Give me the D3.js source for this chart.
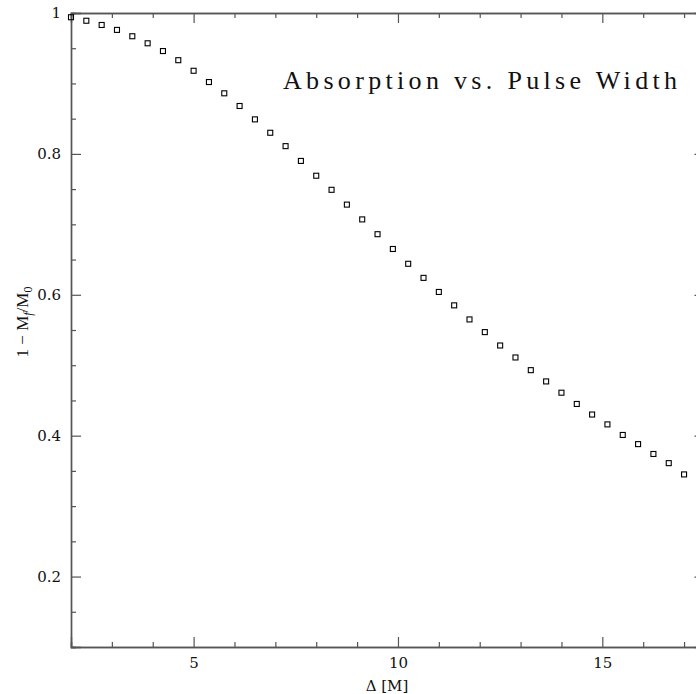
<!DOCTYPE html>
<html>
<head>
<meta charset="utf-8">
<script src="https://cdn.jsdelivr.net/npm/d3@7"></script>
<style>
  body { margin: 0; background: #fff; }
  svg { display: block; }
</style>
</head>
<body>
<svg id="chart"></svg>
<script>
// pulse width Δ [M]
var pulseWidth = [2, 2.375, 2.75, 3.125, 3.5, 3.875, 4.25, 4.625, 5, 5.375,
  5.75, 6.125, 6.5, 6.875, 7.25, 7.625, 8, 8.375, 8.75, 9.125,
  9.5, 9.875, 10.25, 10.625, 11, 11.375, 11.75, 12.125, 12.5, 12.875,
  13.25, 13.625, 14, 14.375, 14.75, 15.125, 15.5, 15.875, 16.25, 16.625, 17]

// absorbed fraction 1 - Mf/M0
var absorbed = [0.994, 0.989, 0.983, 0.976, 0.967, 0.957, 0.946, 0.933, 0.918, 0.902,
  0.886, 0.868, 0.849, 0.830, 0.811, 0.790, 0.769, 0.749, 0.728, 0.707,
  0.686, 0.665, 0.644, 0.624, 0.604, 0.585, 0.565, 0.547, 0.528, 0.511,
  0.493, 0.477, 0.461, 0.445, 0.430, 0.416, 0.401, 0.388, 0.374, 0.361, 0.345]

var xMajor = [5, 10, 15]
var xMinor = [2, 3, 4, 6, 7, 8, 9, 11, 12, 13, 14, 16, 17]
var yMajor = [0.2, 0.4, 0.6, 0.8, 1]
var yMinor = [0.1, 0.15, 0.25, 0.3, 0.35, 0.45, 0.5, 0.55, 0.65, 0.7, 0.75, 0.85, 0.9, 0.95]

var title = "Absorption vs. Pulse Width"

var width = 696,
    height = 694,
    margin = {left: 71, top: 13}

var svg = d3.select("#chart")
  .attr("width", width)
  .attr("height", height)

var x = d3.scaleLinear().domain([2, 17.5]).range([margin.left, 704.5])
var y = d3.scaleLinear().domain([0.1, 1]).range([647, margin.top])

var axisColor = "#555"
var tickFont = "DejaVu Serif, serif"

function style(g) {
  g.select(".domain").attr("stroke", axisColor).attr("stroke-width", 1.4)
  g.selectAll(".tick line").attr("stroke", axisColor).attr("stroke-width", 1.2)
  g.selectAll(".tick text").attr("fill", "#111")
    .style("font-family", tickFont).style("font-size", "15px")
}

// minor ticks first, major ticks over them
var frame = [
  {axis: d3.axisBottom, scale: x, at: "translate(0," + y(0.1) + ")", labels: true},
  {axis: d3.axisTop, scale: x, at: "translate(0," + y(1) + ")", labels: false},
  {axis: d3.axisLeft, scale: y, at: "translate(" + x(2) + ",0)", labels: true},
  {axis: d3.axisRight, scale: y, at: "translate(" + x(17.5) + ",0)", labels: false}
]

frame.forEach(f => {
  var minor = f.scale === x ? xMinor : yMinor
  var major = f.scale === x ? xMajor : yMajor

  svg.append("g")
    .attr("transform", f.at)
    .call(f.axis(f.scale).tickValues(minor).tickSize(-5).tickFormat(""))
    .call(style)

  svg.append("g")
    .attr("transform", f.at)
    .call(f.axis(f.scale).tickValues(major).tickSize(-10).tickPadding(10)
      .tickFormat(f.labels ? d3.format("") : ""))
    .call(style)
})

// data points
svg.append("g")
  .selectAll("rect")
  .data(d3.zip(pulseWidth, absorbed))
  .enter()
  .append("rect")
  .attr("x", d => x(d[0]) - 2.5)
  .attr("y", d => y(d[1]) - 2.5)
  .attr("width", 5)
  .attr("height", 5)
  .attr("fill", "none")
  .attr("stroke", "#000")
  .attr("stroke-width", 1.1)

// title, spaced serif like the plotting package's stroke font
svg.append("text")
  .attr("x", 283)
  .attr("y", 89)
  .attr("textLength", 394)
  .attr("lengthAdjust", "spacing")
  .style("font-family", "Liberation Serif, serif")
  .style("font-size", "26px")
  .attr("fill", "#111")
  .text(title)

// x label
svg.append("text")
  .attr("x", 387)
  .attr("y", 691)
  .attr("text-anchor", "middle")
  .style("font-family", tickFont)
  .style("font-size", "15px")
  .attr("fill", "#111")
  .text("Δ  [M]")

// y label
var ylab = svg.append("text")
  .attr("transform", "translate(28,322) rotate(-90)")
  .attr("text-anchor", "middle")
  .style("font-family", "Liberation Serif, serif")
  .style("font-size", "17px")
  .attr("fill", "#111")

ylab.append("tspan").text("1 − M")
ylab.append("tspan").attr("dy", 4).style("font-size", "12px").style("font-style", "italic").text("f")
ylab.append("tspan").attr("dy", -4).text("/M")
ylab.append("tspan").attr("dy", 4).style("font-size", "12px").text("0")
</script>
</body>
</html>
